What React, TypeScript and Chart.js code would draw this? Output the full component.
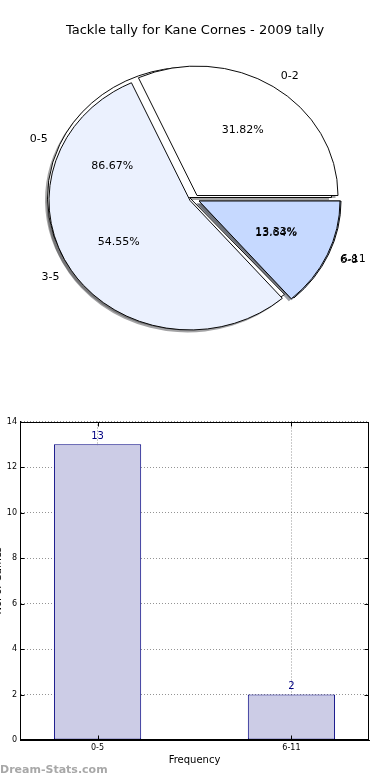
import React, { useEffect, useRef } from "react";
import { Chart, registerables } from "chart.js";

Chart.register(...registerables);

// ---------------- DATA ----------------
const chartTitle = "Tackle tally for Kane Cornes - 2009 tally";

// first pie (drawn underneath)
const pie1Labels = ["0-5", "6-11"];
const pie1Values = [13, 2];

// second pie (drawn on top)
const pie2Labels = ["0-2", "3-5", "6-8"];
const pie2Values = [7, 12, 3];

// bar chart
const barCategories = ["0-5", "6-11"];
const barValues = [13, 2];
const yTickValues = [0, 2, 4, 6, 8, 10, 12, 14];
const xAxisTitle = "Frequency";
const yAxisTitle = "No. of Games";
const watermark = "Dream-Stats.com";

// ---------------- STYLE ----------------
const FONT = '"DejaVu Sans", "Liberation Sans", sans-serif';
const PIE_COLORS = [
  ["#ffffff", "#c6d9ff"],
  ["#ffffff", "#ebf1fe", "#c6d9ff"],
];
const PIE_RADIUS = [142, 141];
const LABEL_RADIUS = 141;
const PIE_KY = 0.918; // vertical squash (elliptical axes)
const EXPLODE = [
  [[-0.5, -2.5], [9, 1]],
  [[7, -4.5], [0, 0.5], [9, 1]],
];
const SHADOW_SHIFT = [-2.5, 2.5];

function shadowOf(hex: string) {
  const n = parseInt(hex.slice(1), 16);
  const r = (n >> 16) & 255, g = (n >> 8) & 255, b = n & 255;
  return `rgba(${Math.round(r * 0.3)},${Math.round(g * 0.3)},${Math.round(b * 0.3)},0.5)`;
}

const pies = [
  { labels: pie1Labels, values: pie1Values },
  { labels: pie2Labels, values: pie2Values },
];

function drawSlice(ctx: any, arc: any, d: number, i: number, shadow: boolean) {
  const [ex, ey] = EXPLODE[d][i];
  const sx = shadow ? SHADOW_SHIFT[0] : 0;
  const sy = shadow ? SHADOW_SHIFT[1] : 0;
  const savedOuter = arc.outerRadius;
  const savedInner = arc.innerRadius;
  const savedOpts = arc.options;
  arc.outerRadius = PIE_RADIUS[d];
  arc.innerRadius = 0;
  if (shadow) {
    arc.options = { ...savedOpts, backgroundColor: shadowOf(PIE_COLORS[d][i]), borderWidth: 0 };
  }
  ctx.save();
  ctx.translate(arc.x + ex + sx, arc.y + ey + sy);
  ctx.scale(1, PIE_KY);
  ctx.translate(-arc.x, -arc.y);
  arc.draw(ctx);
  ctx.restore();
  arc.outerRadius = savedOuter;
  arc.innerRadius = savedInner;
  arc.options = savedOpts;
}

const pieDrawPlugin = {
  id: "pieDraw",
  beforeDatasetsDraw(chart: any) {
    const ctx = chart.ctx;
    for (const shadow of [true, false]) {
      chart.data.datasets.forEach((_: any, d: number) => {
        const meta = chart.getDatasetMeta(d);
        const n = meta.data.length;
        meta.data.forEach((arc: any, j: number) => drawSlice(ctx, arc, d, n - 1 - j, shadow));
      });
    }
    return false;
  },
  afterDraw(chart: any) {
    const ctx = chart.ctx;
    ctx.save();
    ctx.font = `11px ${FONT}`;
    ctx.fillStyle = "#000";
    ctx.textBaseline = "middle";
    pies.forEach((p, d) => {
      const meta = chart.getDatasetMeta(d);
      const n = meta.data.length;
      const total = p.values.reduce((a, b) => a + b, 0);
      meta.data.forEach((arc: any, j: number) => {
        const i = n - 1 - j;
        const [ex, ey] = EXPLODE[d][i];
        const mid = (arc.startAngle + arc.endAngle) / 2;
        const c = Math.cos(mid), s = Math.sin(mid);
        const cx = arc.x + ex, cy = arc.y + ey;
        ctx.textAlign = c > 0 ? "left" : "right";
        ctx.fillText(p.labels[i], cx + 1.1 * LABEL_RADIUS * c, cy + 1.1 * LABEL_RADIUS * PIE_KY * s);
        ctx.textAlign = "center";
        const pct = ((p.values[i] / total) * 100).toFixed(2) + "%";
        ctx.fillText(pct, cx + 0.6 * LABEL_RADIUS * c, cy + 0.6 * LABEL_RADIUS * PIE_KY * s);
      });
    });
    ctx.restore();
  },
};

function PieChart() {
  const ref = useRef<HTMLCanvasElement>(null);
  useEffect(() => {
    const rev = (a: any[]) => [...a].reverse();
    const chart = new Chart(ref.current as HTMLCanvasElement, {
      type: "pie",
      data: {
        labels: rev(pie2Labels),
        datasets: pies.map((p, d) => ({
          data: rev(p.values),
          backgroundColor: rev(PIE_COLORS[d]),
          borderColor: "#000",
          borderWidth: 1,
          borderJoinStyle: "miter",
        })),
      } as any,
      options: {
        responsive: false,
        animation: false,
        devicePixelRatio: 1,
        events: [],
        rotation: 90,
        layout: { padding: { left: 0, right: 10, top: 0, bottom: 0 } },
        plugins: { legend: { display: false }, tooltip: { enabled: false }, title: { display: false } },
      } as any,
      plugins: [pieDrawPlugin as any],
    });
    return () => chart.destroy();
  }, []);
  return (
    <canvas
      ref={ref}
      width={390}
      height={400}
      style={{ position: "absolute", left: 0, top: 0, width: 390, height: 400 }}
    />
  );
}

const barDecorPlugin = {
  id: "barDecor",
  afterDraw(chart: any) {
    const { ctx, chartArea: a, scales } = chart;
    const x = scales.x, y = scales.y;
    ctx.save();
    // frame
    ctx.strokeStyle = "#000";
    ctx.lineWidth = 1;
    const l = Math.round(a.left) + 0.5, t = Math.round(a.top) + 0.5;
    const r = Math.round(a.right) - 0.5, b = Math.round(a.bottom) - 0.5;
    ctx.strokeRect(l, t, r - l, b - t);
    // inward tick marks
    ctx.beginPath();
    yTickValues.forEach((v) => {
      const py = Math.round(y.getPixelForValue(v)) + 0.5;
      ctx.moveTo(l, py); ctx.lineTo(l + 4, py);
      ctx.moveTo(r, py); ctx.lineTo(r - 4, py);
    });
    barCategories.forEach((_, i) => {
      const px = Math.round(x.getPixelForValue(i)) + 0.5;
      ctx.moveTo(px, b); ctx.lineTo(px, b - 4);
      ctx.moveTo(px, t); ctx.lineTo(px, t + 4);
    });
    ctx.stroke();
    // value labels
    ctx.font = `10px ${FONT}`;
    ctx.fillStyle = "#000080";
    ctx.textAlign = "center";
    ctx.textBaseline = "bottom";
    chart.getDatasetMeta(0).data.forEach((bar: any, i: number) => {
      ctx.fillText(String(barValues[i]), bar.x, bar.y - 3);
    });
    // watermark
    ctx.font = `bold 11px ${FONT}`;
    ctx.fillStyle = "#a8a8a8";
    ctx.textAlign = "left";
    ctx.textBaseline = "middle";
    ctx.fillText(watermark, 10, 370);
    ctx.restore();
  },
};

function BarChart() {
  const ref = useRef<HTMLCanvasElement>(null);
  useEffect(() => {
    const GRID = "rgba(0,0,0,0.42)";
    const chart = new Chart(ref.current as HTMLCanvasElement, {
      type: "bar",
      data: {
        datasets: [
          {
            data: barValues.map((v, i) => ({ x: i, y: v })),
            backgroundColor: "#ccccE6",
            borderColor: "#000080",
            borderWidth: 1,
            borderSkipped: false,
            barPercentage: 0.45,
            categoryPercentage: 1,
          },
        ],
      } as any,
      options: {
        responsive: false,
        animation: false,
        devicePixelRatio: 1,
        events: [],
        layout: { padding: { top: 21.5, right: 21, bottom: 10, left: 0 } },
        plugins: { legend: { display: false }, tooltip: { enabled: false } },
        scales: {
          x: {
            type: "linear",
            min: -0.4,
            max: 1.4,
            offset: false,
            z: 1,
            afterBuildTicks: (axis: any) => {
              axis.ticks = barCategories.map((_, i) => ({ value: i }));
            },
            afterFit: (axis: any) => {
              axis.height = 30;
            },
            ticks: {
              callback: (v: any) => barCategories[v] ?? "",
              font: { family: FONT, size: 8 },
              color: "#000",
              padding: 3,
              maxRotation: 0,
              autoSkip: false,
            },
            grid: { color: GRID, drawTicks: false, offset: false },
            border: { display: true, color: "#000", dash: [1, 2] },
            title: {
              display: true,
              text: xAxisTitle,
              font: { family: FONT, size: 10 },
              color: "#000",
              padding: { top: 0, bottom: 4 },
            },
          },
          y: {
            min: 0,
            max: 14,
            z: 1,
            afterBuildTicks: (axis: any) => {
              axis.ticks = yTickValues.map((v) => ({ value: v }));
            },
            afterFit: (axis: any) => {
              axis.width = 30;
            },
            ticks: { font: { family: FONT, size: 8 }, color: "#000", padding: 3 },
            grid: { color: GRID, drawTicks: false },
            border: { display: true, color: "#000", dash: [1, 2] },
            title: {
              display: true,
              text: yAxisTitle,
              font: { family: FONT, size: 10 },
              color: "#000",
              padding: { top: 2, bottom: 0 },
            },
          },
        },
      } as any,
      plugins: [barDecorPlugin as any],
    });
    return () => chart.destroy();
  }, []);
  return (
    <canvas
      ref={ref}
      width={400}
      height={380}
      style={{ position: "absolute", left: -10, top: 400, width: 400, height: 380 }}
    />
  );
}

export default function App() {
  return (
    <div
      style={{
        position: "fixed",
        left: 0,
        top: 0,
        width: 390,
        height: 780,
        overflow: "hidden",
        background: "#fff",
        fontFamily: FONT,
      }}
    >
      <PieChart />
      <BarChart />
      <div
        style={{
          position: "absolute",
          left: 0,
          top: 21,
          width: 390,
          textAlign: "center",
          fontSize: 13,
          lineHeight: "18px",
          color: "#000",
        }}
      >
        {chartTitle}
      </div>
    </div>
  );
}
